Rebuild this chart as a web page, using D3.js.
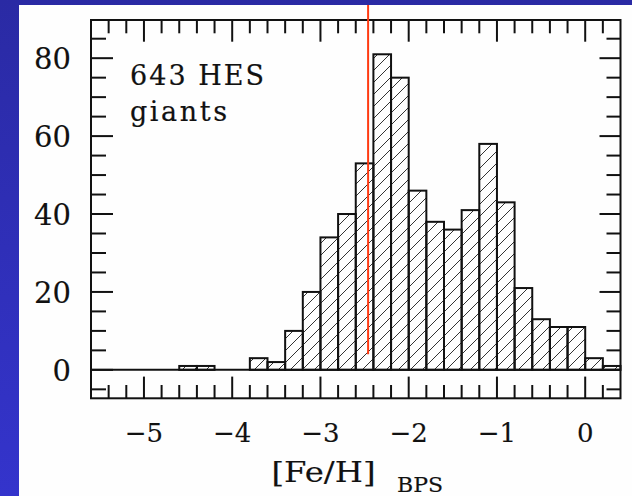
<!DOCTYPE html>
<html><head><meta charset="utf-8">
<script src="https://cdn.jsdelivr.net/npm/d3@7"></script>
<style>html,body{margin:0;padding:0;overflow:hidden;background:#2e2eb4}</style>
</head><body>
<svg id="c" width="632" height="496"></svg>
<script>
// ---- data ----
const binLo   = [-4.6,-4.4,-3.8,-3.6,-3.4,-3.2,-3.0,-2.8,-2.6,-2.4,-2.2,-2.0,-1.8,-1.6,-1.4,-1.2,-1.0,-0.8,-0.6,-0.4,-0.2,0.0,0.2];
const counts  = [1,1,3,2,10,20,34,40,53,81,75,46,38,36,41,58,43,21,13,11,11,3,1];
const binWidth = 0.2;
const xTickMajor = [-5,-4,-3,-2,-1,0];
const xTickLabels = ["\u22125","\u22124","\u22123","\u22122","\u22121","0"];
const xTickMinor = d3.range(-54,3,2).map(v=>v/10);
const yTickMajor = [0,20,40,60,80];
const yTickLabels = ["0","20","40","60","80"];
const yTickMinor = d3.range(-5,90,5);
const cutFeH = -2.46, cutBottom = 4;
const annot = ["643 HES","giants"];

// ---- layout ----
const svg = d3.select("#c");
const defs = svg.append("defs");
const g0 = defs.append("linearGradient").attr("id","bg").attr("x1",0).attr("y1",0).attr("x2",0).attr("y2",1);
g0.append("stop").attr("offset","0%").attr("stop-color","#2a2aa4");
g0.append("stop").attr("offset","100%").attr("stop-color","#3434cc");
svg.append("rect").attr("width",632).attr("height",496).attr("fill","url(#bg)");
svg.append("rect").attr("x",19).attr("y",5).attr("width",613).attr("height",491).attr("fill","#fefefe");

const x = d3.scaleLinear().domain([-5.6,0.4]).range([91,620.5]);
const y = d3.scaleLinear().domain([-7.3,89.8]).range([398.3,20]);

const pat = defs.append("pattern").attr("id","hatch").attr("patternUnits","userSpaceOnUse")
  .attr("width",12).attr("height",12);
pat.append("path").attr("d","M-3,3 L3,-3 M0,12 L12,0 M9,15 L15,9").attr("stroke","#333").attr("stroke-width",1);

const font = "'DejaVu Serif', 'Liberation Serif', serif";

// bars
svg.append("g").selectAll("rect").data(binLo).join("rect")
  .attr("x",(d)=>x(d)).attr("width",(d)=>x(d+binWidth)-x(d))
  .attr("y",(d,i)=>y(counts[i])).attr("height",(d,i)=>y(0)-y(counts[i]))
  .attr("fill","url(#hatch)").attr("stroke","#111").attr("stroke-width",2);
// baseline
svg.append("line").attr("x1",x(-5.6)).attr("x2",x(0.4)).attr("y1",y(0)).attr("y2",y(0))
  .attr("stroke","#111").attr("stroke-width",2);

// axes (frame with inward ticks on all sides)
const axG = svg.append("g").attr("stroke","#111").attr("stroke-width",2);
function tickLines(vals, len, side){
  vals.forEach(v=>{
    if(side==="bottom") axG.append("line").attr("x1",x(v)).attr("x2",x(v)).attr("y1",y.range()[0]).attr("y2",y.range()[0]-len);
    if(side==="top") axG.append("line").attr("x1",x(v)).attr("x2",x(v)).attr("y1",y.range()[1]).attr("y2",y.range()[1]+len);
    if(side==="left") axG.append("line").attr("y1",y(v)).attr("y2",y(v)).attr("x1",x.range()[0]).attr("x2",x.range()[0]+len);
    if(side==="right") axG.append("line").attr("y1",y(v)).attr("y2",y(v)).attr("x1",x.range()[1]).attr("x2",x.range()[1]-len);
  });
}
const isMajorX = v=>xTickMajor.some(m=>Math.abs(m-v)<1e-6);
tickLines(xTickMinor.filter(v=>!isMajorX(v)),13.3,"bottom");
tickLines(xTickMajor,21.7,"bottom");
tickLines(xTickMinor.filter(v=>!isMajorX(v)),13.3,"top");
tickLines(xTickMajor,21.7,"top");
tickLines(yTickMinor.filter(v=>yTickMajor.indexOf(v)<0),15,"left");
tickLines(yTickMajor,22,"left");
tickLines(yTickMinor.filter(v=>yTickMajor.indexOf(v)<0),14,"right");
tickLines(yTickMajor,21,"right");
axG.append("rect").attr("x",x.range()[0]).attr("y",y.range()[1])
  .attr("width",x.range()[1]-x.range()[0]).attr("height",y.range()[0]-y.range()[1]).attr("fill","none");

// tick labels
svg.append("g").selectAll("text").data(yTickMajor).join("text")
  .attr("x",71).attr("y",d=>y(d)+11).attr("text-anchor","end")
  .attr("font-family",font).attr("font-size",29).attr("fill","#111")
  .attr("stroke","#111").attr("stroke-width",0.15)
  .text((d,i)=>yTickLabels[i]);
svg.append("g").selectAll("text").data(xTickMajor).join("text")
  .attr("x",d=>x(d)).attr("y",441.5).attr("text-anchor","middle")
  .attr("font-family",font).attr("font-size",26).attr("fill","#111")
  .attr("stroke","#111").attr("stroke-width",0.15)
  .text((d,i)=>xTickLabels[i]);

// axis title
svg.append("text").attr("x",271.5).attr("y",481.5).attr("font-family",font).attr("font-size",28)
  .attr("fill","#111").attr("stroke","#111").attr("stroke-width",0.15)
  .attr("textLength",104).attr("lengthAdjust","spacingAndGlyphs").text("[Fe/H]");
svg.append("text").attr("x",397).attr("y",491.5).attr("font-family",font).attr("font-size",21)
  .attr("fill","#111").attr("stroke","#111").attr("stroke-width",0.15)
  .attr("textLength",46).attr("lengthAdjust","spacingAndGlyphs").text("BPS");

// annotation
svg.append("text").attr("x",130).attr("y",85).attr("font-family",font).attr("font-size",27)
  .attr("fill","#111").attr("stroke","#111").attr("stroke-width",0.2)
  .attr("textLength",134).attr("lengthAdjust","spacing").text(annot[0]);
svg.append("text").attr("x",130).attr("y",121).attr("font-family",font).attr("font-size",27)
  .attr("fill","#111").attr("stroke","#111").attr("stroke-width",0.2)
  .attr("textLength",97).attr("lengthAdjust","spacing").text(annot[1]);

// red cut line
svg.append("line").attr("x1",x(cutFeH)).attr("x2",x(cutFeH)).attr("y1",5).attr("y2",y(cutBottom))
  .attr("stroke","#ff3a12").attr("stroke-width",2);
</script>
</body></html>
